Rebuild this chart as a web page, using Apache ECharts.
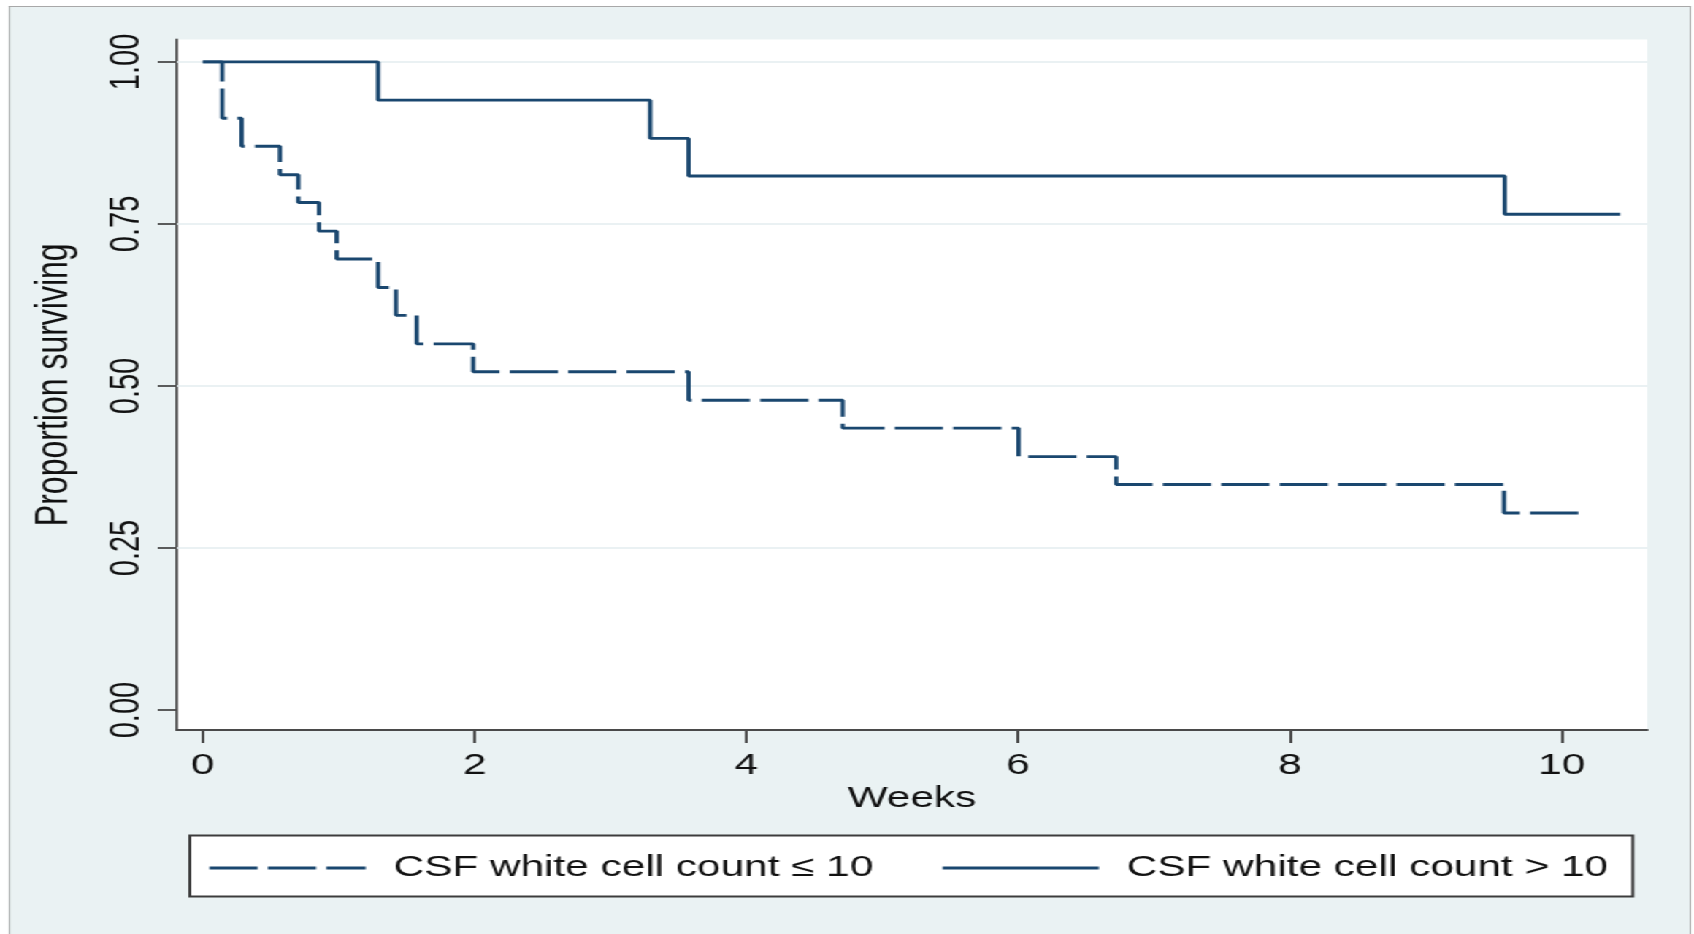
<!DOCTYPE html>
<html>
<head>
<meta charset="utf-8">
<script src="https://cdn.jsdelivr.net/npm/echarts@6/dist/echarts.min.js"></script>
<style>
  html, body { margin: 0; padding: 0; background: #ffffff; overflow: hidden; }
  #wrap { position: absolute; left: 0; top: 0; width: 1160px; height: 934px;
          transform: scaleX(1.46034); transform-origin: 0 0; }
  #bg { position: absolute; left: 5.5px; top: 6px; width: 1152px; height: 940px;
        background: #eaf2f3; border: 1.5px solid #a8a8a8; border-bottom: none; box-sizing: border-box; }
  #chart { position: absolute; left: 0; top: 0; width: 1160px; height: 934px; }
</style>
</head>
<body>
<div id="wrap">
  <div id="bg"></div>
  <div id="chart"></div>
</div>
<script>
// ---- data ----
const weeksLow  = [0, 0.143, 0.286, 0.568, 0.703, 0.855, 0.985, 1.29, 1.422, 1.574, 1.99, 3.575, 4.709, 6.003, 6.722, 9.576, 10.15];
const survLow   = [1.000, 0.913, 0.870, 0.826, 0.783, 0.739, 0.696, 0.652, 0.609, 0.565, 0.522, 0.478, 0.435, 0.391, 0.348, 0.304, 0.304];
const weeksHigh = [0, 1.29, 3.292, 3.575, 9.581, 10.43];
const survHigh  = [1.000, 0.941, 0.882, 0.824, 0.765, 0.765];
const xTicks = [0, 2, 4, 6, 8, 10];
const yTicks = [0, 0.25, 0.5, 0.75, 1];
const gridValues = [0.25, 0.5, 0.75, 1];
const nameLow  = 'CSF white cell count \u2264 10';
const nameHigh = 'CSF white cell count > 10';
const xTitle = 'Weeks';
const yTitle = 'Proportion surviving';

const navy = '#1a476f';
const axisColor = '#4a4a4a';
const font = "'Liberation Sans', Arial, sans-serif";

const chart = echarts.init(document.getElementById('chart'), null, { renderer: 'canvas' });
chart.setOption({
  backgroundColor: 'transparent',
  animation: false,
  grid: {
    left: 121, right: 32, top: 39.5, bottom: 204,
    show: true, backgroundColor: '#ffffff', borderWidth: 0
  },
  legend: {
    data: [{ name: nameLow }, { name: nameHigh }],
    left: 130, top: 835.5,
    orient: 'horizontal',
    itemWidth: 107, itemHeight: 20, itemGap: 46,
    padding: [18, 17, 14, 12],
    backgroundColor: '#ffffff',
    borderColor: '#3c3c3c', borderWidth: 2, borderRadius: 0,
    itemStyle: { opacity: 0 },
    lineStyle: { width: 2.9 },
    textStyle: { fontSize: 29, color: '#111111', fontFamily: font, padding: [0, 0, 0, 14] }
  },
  xAxis: {
    type: 'value', min: -0.192, max: 10.63,
    name: xTitle, nameLocation: 'middle', nameGap: 54,
    nameTextStyle: { fontSize: 29, color: '#111111', fontFamily: font },
    axisLine: { show: true, onZero: false, lineStyle: { color: axisColor, width: 2 } },
    axisTick: { show: true, customValues: xTicks, length: 13, lineStyle: { color: axisColor, width: 2 } },
    axisLabel: { customValues: xTicks, fontSize: 29, color: '#111111', fontFamily: font, margin: 21 },
    splitLine: { show: false }
  },
  yAxis: {
    type: 'value', min: -0.0308, max: 1.0346,
    name: yTitle, nameLocation: 'middle', nameGap: 68, nameRotate: 90,
    nameTextStyle: { fontSize: 32, color: '#111111', fontFamily: font },
    axisLine: { show: true, onZero: false, lineStyle: { color: axisColor, width: 1.8 } },
    axisTick: { show: true, customValues: yTicks, length: 13, lineStyle: { color: axisColor, width: 1.8 } },
    axisLabel: { customValues: yTicks, rotate: 90, fontSize: 29, color: '#111111', fontFamily: font, margin: 20,
                 formatter: v => Number(v).toFixed(2) },
    splitLine: { show: false }
  },
  series: [
    {
      name: 'grid', type: 'line', data: [], z: 1, silent: true,
      markLine: {
        z: 1, silent: true, symbol: 'none', label: { show: false },
        lineStyle: { color: '#e3ecef', width: 1.6, type: 'solid' },
        data: gridValues.map(v => ({ yAxis: v }))
      }
    },
    {
      name: nameLow, type: 'line', step: 'end', z: 3,
      showSymbol: false, symbol: 'none',
      data: weeksLow.map((w, i) => [w, survLow[i]]),
      lineStyle: { color: navy, width: 2.9, type: [33, 7] },
      itemStyle: { color: navy }
    },
    {
      name: nameHigh, type: 'line', step: 'end', z: 3,
      showSymbol: false, symbol: 'none',
      data: weeksHigh.map((w, i) => [w, survHigh[i]]),
      lineStyle: { color: navy, width: 2.9, type: 'solid' },
      itemStyle: { color: navy }
    }
  ]
});
</script>
</body>
</html>
